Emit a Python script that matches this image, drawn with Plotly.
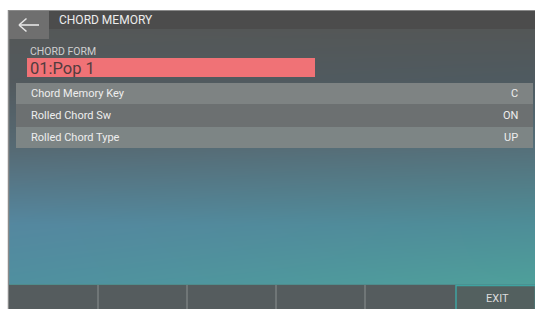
import base64
import struct
import zlib

import numpy as np
import plotly.graph_objects as go

# ---- content ----
screen_title = "CHORD MEMORY"
form_label = "CHORD FORM"
form_value = "01:Pop 1"
param_names = ["Chord Memory Key", "Rolled Chord Sw", "Rolled Chord Type"]
param_values = ["C", "ON", "UP"]
func_buttons = ["", "", "", "", "", "EXIT"]

W, H = 535, 309
FONT = "Roboto"


def Y(y):
    return H - y


# ---- background gradient (screen body) ----
gx0, gx1, gy0, gy1 = 9, 535, 29, 284
stops_y = [29, 80, 150, 225, 284]
left_cols = ["#555858", "#535a5e", "#576b75", "#5588a0", "#5090a0"]
right_cols = ["#545757", "#4f5b61", "#56717b", "#4e8e98", "#4fa09b"]


def hex2rgb(h):
    return [int(h[i:i + 2], 16) for i in (1, 3, 5)]


gw, gh = gx1 - gx0, gy1 - gy0
ys = np.arange(gh) + gy0 + 0.5
L = np.stack([np.interp(ys, stops_y, [hex2rgb(c)[k] for c in left_cols]) for k in range(3)], axis=1)
R = np.stack([np.interp(ys, stops_y, [hex2rgb(c)[k] for c in right_cols]) for k in range(3)], axis=1)
t = (np.arange(gw) / (gw - 1))[None, :, None]
img = (L[:, None, :] * (1 - t) + R[:, None, :] * t).clip(0, 255).astype(np.uint8)


def png_uri(arr):
    h, w, _ = arr.shape
    raw = b"".join(b"\x00" + arr[i].tobytes() for i in range(h))

    def chunk(tag, data):
        return struct.pack(">I", len(data)) + tag + data + struct.pack(">I", zlib.crc32(tag + data) & 0xFFFFFFFF)

    png = (b"\x89PNG\r\n\x1a\n" + chunk(b"IHDR", struct.pack(">IIBBBBB", w, h, 8, 2, 0, 0, 0))
           + chunk(b"IDAT", zlib.compress(raw, 9)) + chunk(b"IEND", b""))
    return "data:image/png;base64," + base64.b64encode(png).decode()


fig = go.Figure()
fig.add_trace(go.Scatter(x=[0], y=[0], mode="markers", marker=dict(opacity=0), hoverinfo="skip", showlegend=False))

shapes = []
annotations = []


def rect(x0, y0, x1, y1, fill, line=None, lw=0):
    shapes.append(dict(type="rect", xref="x", yref="y", x0=x0, x1=x1, y0=Y(y1), y1=Y(y0),
                       fillcolor=fill, line=dict(color=line or fill, width=lw), layer="above"))


def seg(x0, y0, x1, y1, color, width=1):
    shapes.append(dict(type="line", xref="x", yref="y", x0=x0, x1=x1, y0=Y(y0), y1=Y(y1),
                       line=dict(color=color, width=width), layer="above"))


def text(x, y, s, size, color, anchor="left"):
    annotations.append(dict(x=x, y=Y(y), xref="x", yref="y", text=s, showarrow=False,
                            xanchor=anchor, yanchor="middle",
                            font=dict(family=FONT, size=size, color=color)))


# screen frame
seg(8.5, 10, 8.5, 309, "#8a8a8a", 1.5)
seg(9, 10.5, 535, 10.5, "#8a8a8a", 1)

# header bar
rect(9, 11, 535, 29, "#4c4c4c")
rect(9, 11, 49, 39, "#6f6f6f")
# back arrow
seg(19, 25, 39, 25, "#e6e6e6", 1.6)
seg(19, 25, 26.5, 18.5, "#e6e6e6", 1.6)
seg(19, 25, 26.5, 31.5, "#e6e6e6", 1.6)
text(57, 19.5, screen_title, 12, "#ececec")

# chord form
text(27.5, 51.5, form_label, 10.5, "#cfcfcf")
rect(27, 58, 315, 77, "#f07276")
text(27.5, 68, form_value, 16.5, "#533c3e")

# parameter rows
row_edges = [83, 104, 127, 148]
row_fills = ["#7e8383", "#6c7071", "#7d8585"]
for i, (name, val) in enumerate(zip(param_names, param_values)):
    y0, y1 = row_edges[i], row_edges[i + 1]
    rect(16, y0, 533, y1, row_fills[i])
    yc = (y0 + y1) / 2
    text(29, yc, name, 11, "#eeeeee")
    text(519.5, yc, val, 11, "#eeeeee", anchor="right")

# bottom function bar
rect(9, 284, 535, 309, "#555c5e")
seg(9, 284.5, 535, 284.5, "#4f8c8c", 1)
div_x = [98, 187, 276, 365]
for dx in div_x:
    seg(dx, 285, dx, 309, "#8b9090", 1)
rect(456, 285.5, 535.5, 310, "#53605f", "#3fa3a1", 1.5)
text(497, 298, func_buttons[-1], 11, "#dcdcdc", anchor="center")

fig.update_layout(
    width=W, height=H,
    margin=dict(l=0, r=0, t=0, b=0),
    paper_bgcolor="white", plot_bgcolor="white",
    xaxis=dict(range=[0, W], visible=False, fixedrange=True),
    yaxis=dict(range=[0, H], visible=False, fixedrange=True),
    shapes=shapes, annotations=annotations,
    images=[dict(source=png_uri(img), xref="x", yref="y", x=gx0, y=Y(gy0), sizex=gw, sizey=gh,
                 xanchor="left", yanchor="top", sizing="stretch", layer="below")],
    showlegend=False,
)
fig.write_html("out.html", config={"displayModeBar": False, "staticPlot": True},
               post_script="document.body.style.margin='0';document.body.style.overflow='hidden';")
